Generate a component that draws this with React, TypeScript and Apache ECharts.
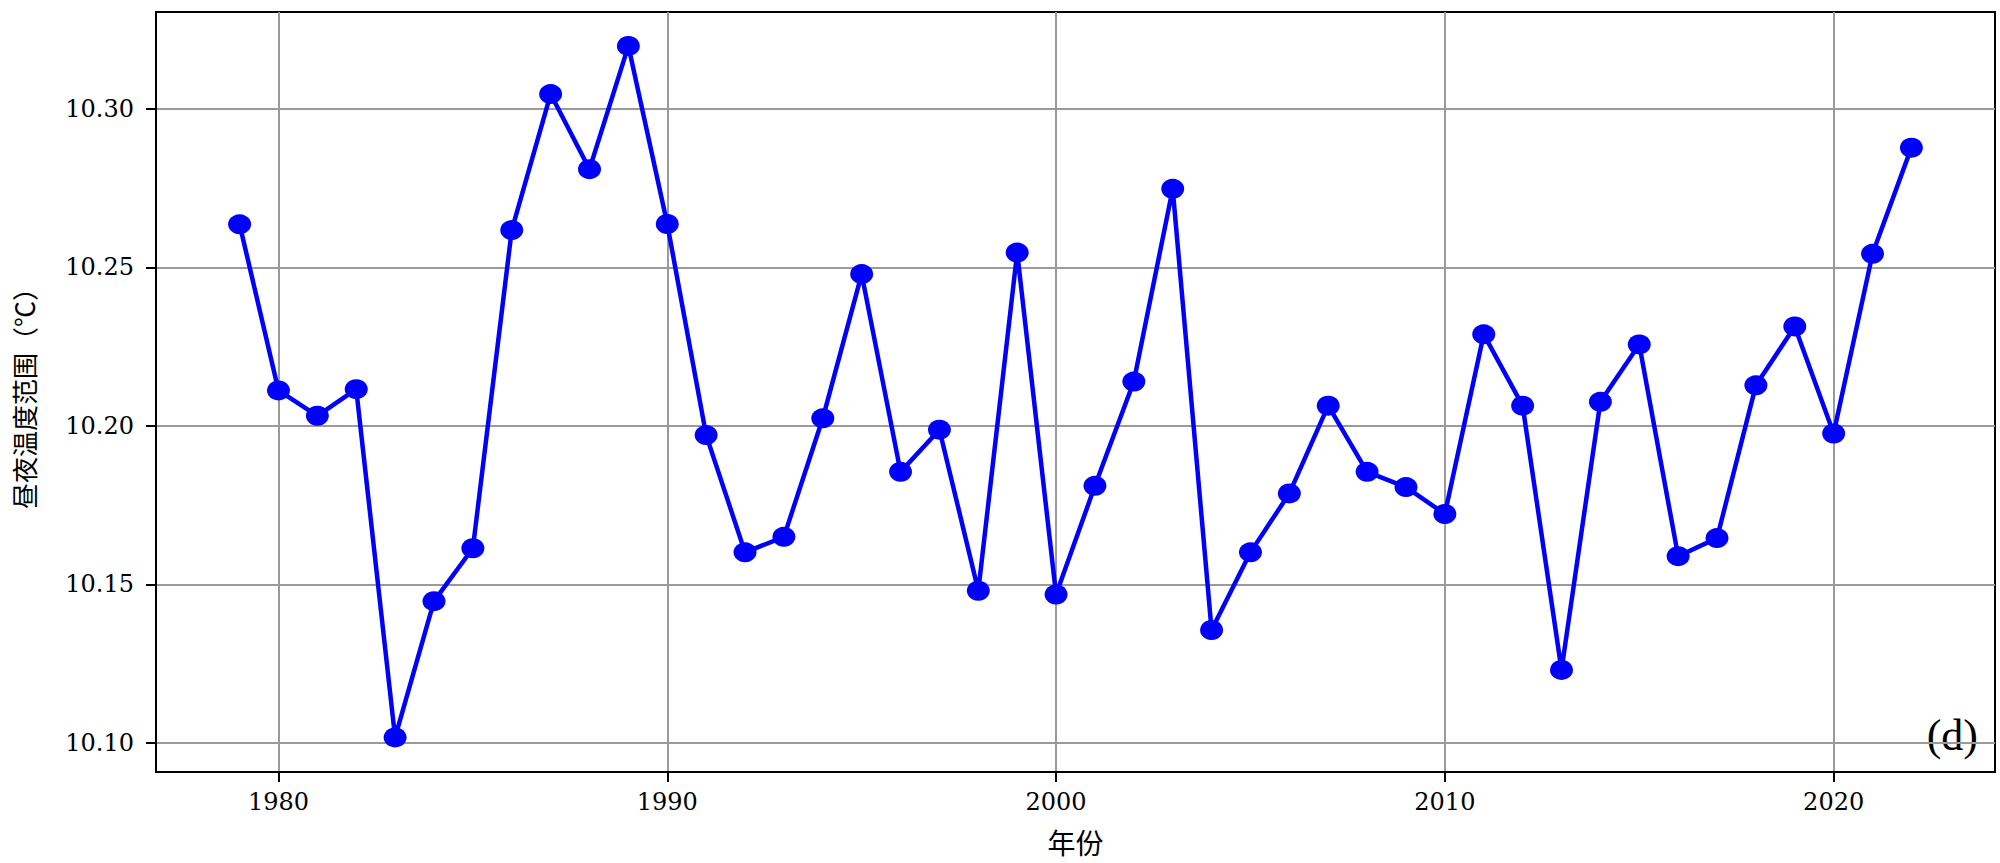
import React, { useEffect, useRef } from "react";
import * as echarts from "echarts";

const years: number[] = [
  1979, 1980, 1981, 1982, 1983, 1984, 1985, 1986, 1987, 1988, 1989, 1990, 1991, 1992, 1993,
  1994, 1995, 1996, 1997, 1998, 1999, 2000, 2001, 2002, 2003, 2004, 2005, 2006, 2007, 2008,
  2009, 2010, 2011, 2012, 2013, 2014, 2015, 2016, 2017, 2018, 2019, 2020, 2021, 2022,
];
const ranges: number[] = [
  10.2636, 10.2112, 10.2032, 10.2116, 10.1017, 10.1447, 10.1614, 10.2618, 10.3047, 10.281,
  10.3199, 10.2637, 10.1971, 10.1601, 10.165, 10.2024, 10.2479, 10.1855, 10.1988, 10.148,
  10.2547, 10.1468, 10.1811, 10.214, 10.2748, 10.1356, 10.1601, 10.1787, 10.2064, 10.1855,
  10.1807, 10.1722, 10.2289, 10.2064, 10.123, 10.2076, 10.2257, 10.1589, 10.1646, 10.2128,
  10.2314, 10.1976, 10.2543, 10.2878,
];
const xTicks: number[] = [1980, 1990, 2000, 2010, 2020];
const yTicks: number[] = [10.1, 10.15, 10.2, 10.25, 10.3];
const xName = "年份";
const yName = "昼夜温度范围（℃）";
const panelLabel = "(d)";

export default function App() {
  const ref = useRef<HTMLDivElement>(null);
  useEffect(() => {
    if (!ref.current) return;
    const chart = echarts.init(ref.current, undefined, { renderer: "svg" });
    const gridColor = "#9a9a9a";
    chart.setOption({
      animation: false,
      backgroundColor: "#ffffff",
      grid: {
        left: 156,
        right: 5,
        top: 12,
        bottom: 91,
        show: true,
        borderColor: "#000000",
        borderWidth: 2,
        backgroundColor: "transparent",
      },
      xAxis: {
        type: "value",
        min: 1976.85,
        max: 2024.15,
        name: xName,
        nameLocation: "middle",
        nameGap: 56,
        nameTextStyle: { fontFamily: "Noto Sans CJK SC", fontSize: 28, color: "#000" },
        axisLine: { show: true, onZero: false, lineStyle: { color: "#000", width: 2 } },
        axisTick: {
          show: true,
          length: 10,
          inside: false,
          customValues: xTicks,
          lineStyle: { color: "#000", width: 2 },
        },
        axisLabel: {
          customValues: xTicks,
          margin: 18,
          fontFamily: "DejaVu Serif",
          fontSize: 24,
          color: "#000",
          formatter: (v: number) => String(Math.round(v)),
        },
        splitLine: { show: true, lineStyle: { color: gridColor, width: 2 } },
      },
      yAxis: {
        type: "value",
        min: 10.0908,
        max: 10.3306,
        name: yName,
        nameLocation: "middle",
        nameRotate: 90,
        nameGap: 120,
        nameTextStyle: { fontFamily: "Noto Sans CJK SC", fontSize: 26, color: "#000" },
        axisLine: { show: true, lineStyle: { color: "#000", width: 2 } },
        axisTick: {
          show: true,
          length: 10,
          inside: false,
          customValues: yTicks,
          lineStyle: { color: "#000", width: 2 },
        },
        axisLabel: {
          customValues: yTicks,
          margin: 22,
          fontFamily: "DejaVu Serif",
          fontSize: 24,
          color: "#000",
          formatter: (v: number) => v.toFixed(2),
        },
        splitLine: { show: true, lineStyle: { color: gridColor, width: 2 } },
      },
      graphic: [
        {
          type: "text",
          right: 22,
          bottom: 106,
          style: {
            text: panelLabel,
            fontFamily: "Liberation Serif",
            fontSize: 44,
            fill: "#000",
          },
        },
      ],
      series: [
        {
          type: "line",
          data: years.map((y, i) => [y, ranges[i]]),
          symbol: "circle",
          symbolSize: [23, 20],
          showSymbol: true,
          lineStyle: { color: "#0000ff", width: 4.5 },
          itemStyle: { color: "#0000ff" },
          z: 5,
        },
      ],
    });
    return () => chart.dispose();
  }, []);
  return (
    <div
      ref={ref}
      style={{ position: "fixed", left: 0, top: 0, width: 2000, height: 863, background: "#fff" }}
    />
  );
}
